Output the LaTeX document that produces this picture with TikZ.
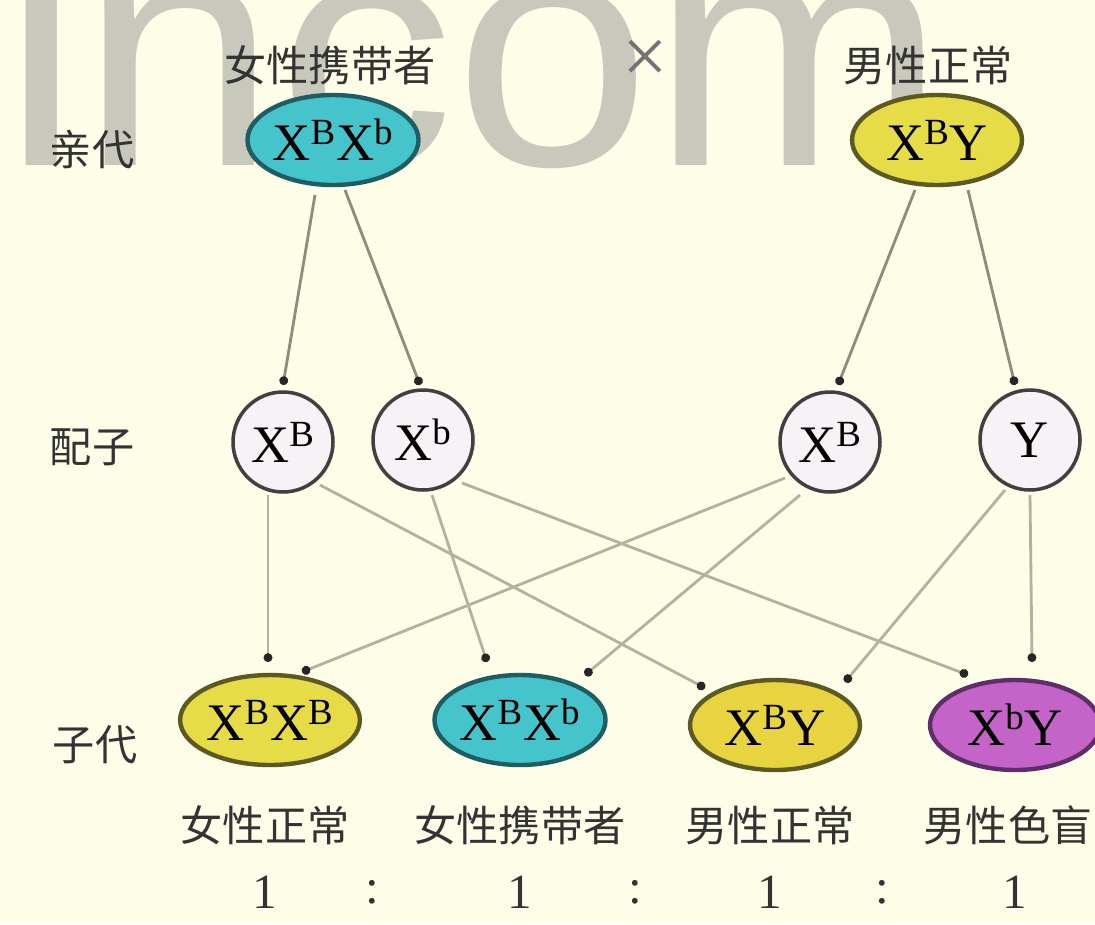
\documentclass[tikz,border=0pt]{standalone}
\usepackage{fontspec}
\setmainfont{Liberation Serif}
\newfontfamily\cjk{Noto Sans CJK SC}
\newfontfamily\wmfont{Liberation Sans}
\usetikzlibrary{shapes.geometric,arrows.meta,calc}
\definecolor{bgc}{HTML}{FDFDE8}
\definecolor{wmc}{HTML}{C8C8BC}
\definecolor{cyanf}{HTML}{46C4CC}
\definecolor{cyand}{HTML}{1E5E62}
\definecolor{yelf}{HTML}{E6DC48}
\definecolor{yeld}{HTML}{5C5A22}
\definecolor{magf}{HTML}{C464C8}
\definecolor{magd}{HTML}{5E2E66}
\definecolor{linec}{HTML}{B4B29E}
\definecolor{toplinec}{HTML}{8E8C7C}
\definecolor{gamf}{HTML}{F6F2F6}
\tikzset{
  geno/.style={ellipse, line width=2.5pt, minimum width=3.4cm, minimum height=1.8cm, inner sep=0pt, font=\fontsize{30}{30}\selectfont},
  gam/.style={circle, draw=black!75, line width=2pt, fill=gamf, minimum size=2cm, inner sep=0pt, font=\fontsize{30}{30}\selectfont},
  lbl/.style={font=\cjk\fontsize{24}{30}\selectfont, text=black!80, inner sep=0pt},
  ratio/.style={font=\fontsize{28}{30}\selectfont, text=black!80, inner sep=0pt},
  arr/.style={draw=linec, line width=1.6pt, -{Circle[length=5pt, color=black!85]}},
  toparr/.style={draw=toplinec, line width=1.6pt, -{Circle[length=5pt, color=black!85]}}
}
\begin{document}
\begin{tikzpicture}[x=0.02cm, y=-0.02cm]
\useasboundingbox (0,0) rectangle (1095,924);
\fill[bgc] (0,0) rectangle (1095,924);
% watermark
\node[anchor=base west, inner sep=0pt, xscale=1.06, text=wmc, font=\wmfont\fontsize{190}{190}\selectfont] (wm) at (2,165) {incom};
% generation labels
\node[lbl] (L1) at (92,150) {亲代};
\node[lbl] (L2) at (92,447) {配子};
\node[lbl] (L3) at (95,745) {子代};
% parents
\node[lbl] (T1) at (330,65) {女性携带者};
\node[font=\fontsize{46}{46}\selectfont, text=black!55, inner sep=0pt] (cross) at (645,62) {×};
\node[lbl] (T2) at (928,65) {男性正常};
\node[geno, draw=cyand, fill=cyanf] (P1) at (333,140) {X\textsuperscript{B}X\textsuperscript{b}};
\node[geno, draw=yeld, fill=yelf] (P2) at (937,140) {X\textsuperscript{B}Y};
% gametes
\node[gam] (G1) at (283,442) {X\textsuperscript{B}};
\node[gam] (G2) at (423,440) {X\textsuperscript{b}};
\node[gam] (G3) at (830,442) {X\textsuperscript{B}};
\node[gam] (G4) at (1030,440) {Y};
% offspring
\node[geno, draw=yeld, fill=yelf] (O1) at (270,720) {X\textsuperscript{B}X\textsuperscript{B}};
\node[geno, draw=cyand, fill=cyanf] (O2) at (520,720) {X\textsuperscript{B}X\textsuperscript{b}};
\node[geno, draw=yeld, fill=yelf!90!orange] (O3) at (775,725) {X\textsuperscript{B}Y};
\node[geno, draw=magd, fill=magf] (O4) at (1015,725) {X\textsuperscript{b}Y};
% phenotype labels
\node[lbl] (F1) at (265,825) {女性正常};
\node[lbl] (F2) at (520,825) {女性携带者};
\node[lbl] (F3) at (770,825) {男性正常};
\node[lbl] (F4) at (1008,825) {男性色盲};
% ratio
\node[ratio] (R1) at (265,892) {1};
\node[ratio] (R2) at (372,892) {:};
\node[ratio] (R3) at (520,892) {1};
\node[ratio] (R4) at (635,892) {:};
\node[ratio] (R5) at (770,892) {1};
\node[ratio] (R6) at (882,892) {:};
\node[ratio] (R7) at (1015,892) {1};
% parent -> gamete
\draw[toparr] ($(P1)+(-18,55)$) -- ($(G1)+(0,-57)$);
\draw[toparr] ($(P1)+(12,50)$) -- ($(G2)+(-3,-55)$);
\draw[toparr] ($(P2)+(-22,50)$) -- ($(G3)+(8,-57)$);
\draw[toparr] ($(P2)+(31,50)$) -- ($(G4)+(-15,-55)$);
% gamete -> offspring
\draw[arr] ($(G1)+(-15,53)$) -- ($(O1)+(-2,-58)$);
\draw[arr] ($(G1)+(37,43)$) -- ($(O3)+(-70,-37)$);
\draw[arr] ($(G2)+(9,55)$) -- ($(O2)+(-33,-58)$);
\draw[arr] ($(G2)+(39,43)$) -- ($(O4)+(-47,-50)$);
\draw[arr] ($(G3)+(-45,36)$) -- ($(O1)+(32,-48)$);
\draw[arr] ($(G3)+(-30,53)$) -- ($(O2)+(65,-45)$);
\draw[arr] ($(G4)+(-25,50)$) -- ($(O3)+(70,-43)$);
\draw[arr] ($(G4)+(0,55)$) -- ($(O4)+(17,-63)$);
\end{tikzpicture}
\end{document}
